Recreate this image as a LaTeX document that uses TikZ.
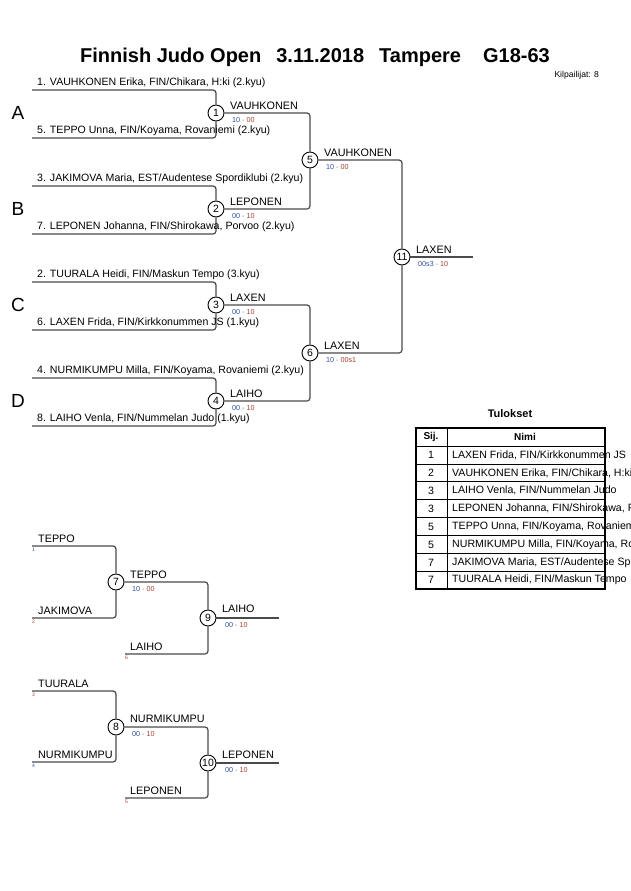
\documentclass[tikz,border=0pt]{standalone}
\usepackage{fontspec}
\setmainfont{Liberation Sans}
\definecolor{ln}{HTML}{4A4A4A}
\definecolor{sblue}{HTML}{2F4F9F}
\definecolor{sred}{HTML}{A8402E}
\newcommand{\scor}[2]{\textcolor{sblue}{#1}\ \textcolor{gray}{-}\ \textcolor{sred}{#2}}
\begin{document}
\begin{tikzpicture}[x=1pt,y=-1pt,
  br/.style={draw=ln,line width=1.2pt,rounded corners=3pt},
  circ/.style={circle,draw=black,line width=0.9pt,fill=white,minimum size=16pt,inner sep=0pt,font=\fontsize{10.5}{10}\selectfont},
  nm/.style={anchor=base west,inner sep=0pt,font=\fontsize{10.6}{11}\selectfont},
  wn/.style={anchor=base west,inner sep=0pt,font=\fontsize{10.8}{11}\selectfont},
  scr/.style={anchor=base west,inner sep=0pt,font=\fontsize{7.2}{8}\selectfont},
  seed/.style={anchor=north west,inner sep=0pt,font=\fontsize{5}{5}\selectfont},
  grp/.style={anchor=center,inner sep=0pt,font=\fontsize{19}{19}\selectfont},
  cell/.style={inner sep=0pt,font=\fontsize{10.6}{11}\selectfont}]
\clip (0,0) rectangle (630,891);
\fill[white] (0,0) rectangle (630,891);
% title
\node[inner sep=0pt,font=\bfseries\fontsize{20}{20}\selectfont] (title) at (315,57) {Finnish Judo Open\hspace{15pt}3.11.2018\hspace{15pt}Tampere\hspace{22pt}G18-63};
\node[anchor=east,inner sep=0pt,font=\fontsize{8.6}{9}\selectfont] (kilp) at (599,75) {Kilpailijat: 8};
% group letters
\node[grp] (gA) at (18,113) {A};
\node[grp] (gB) at (18,209) {B};
\node[grp] (gC) at (18,305) {C};
\node[grp] (gD) at (18,401) {D};
% entrant line ends
\coordinate (e1) at (32,90);  \coordinate (e5) at (32,138);
\coordinate (e3) at (32,186); \coordinate (e7) at (32,234);
\coordinate (e2) at (32,282); \coordinate (e6) at (32,330);
\coordinate (e4) at (32,378); \coordinate (e8) at (32,426);
% match circles
\node[circ] (m1) at (216,113) {1};
\node[circ] (m2) at (216,209) {2};
\node[circ] (m3) at (216,305) {3};
\node[circ] (m4) at (216,401) {4};
\node[circ] (m5) at (310,160) {5};
\node[circ] (m6) at (310,353) {6};
\node[circ] (m11) at (402,257) {11};
\coordinate (fin) at (473,257);
% connectors
\draw[br] (e1) -| (m1); \draw[br] (e5) -| (m1);
\draw[br] (e3) -| (m2); \draw[br] (e7) -| (m2);
\draw[br] (e2) -| (m3); \draw[br] (e6) -| (m3);
\draw[br] (e4) -| (m4); \draw[br] (e8) -| (m4);
\draw[br] (m1) -| (m5); \draw[br] (m2) -| (m5);
\draw[br] (m3) -| (m6); \draw[br] (m4) -| (m6);
\draw[br] (m5) -| (m11); \draw[br] (m6) -| (m11);
\draw[br] (m11) -- (fin);
% entrant names
\node[nm] (n1) at (37,85.5) {1. VAUHKONEN Erika, FIN/Chikara, H:ki (2.kyu)};
\node[nm] (n5) at (37,133.5) {5. TEPPO Unna, FIN/Koyama, Rovaniemi (2.kyu)};
\node[nm] (n3) at (37,181.5) {3. JAKIMOVA Maria, EST/Audentese Spordiklubi (2.kyu)};
\node[nm] (n7) at (37,229.5) {7. LEPONEN Johanna, FIN/Shirokawa, Porvoo (2.kyu)};
\node[nm] (n2) at (37,277.5) {2. TUURALA Heidi, FIN/Maskun Tempo (3.kyu)};
\node[nm] (n6) at (37,325.5) {6. LAXEN Frida, FIN/Kirkkonummen JS (1.kyu)};
\node[nm] (n4) at (37,373.5) {4. NURMIKUMPU Milla, FIN/Koyama, Rovaniemi (2.kyu)};
\node[nm] (n8) at (37,421.5) {8. LAIHO Venla, FIN/Nummelan Judo (1.kyu)};
% winners and scores
\node[wn] (w1) at (230,109) {VAUHKONEN};  \node[scr] (s1) at (232,122) {\scor{10}{00}};
\node[wn] (w2) at (230,205) {LEPONEN};    \node[scr] (s2) at (232,218) {\scor{00}{10}};
\node[wn] (w3) at (230,301) {LAXEN};      \node[scr] (s3) at (232,314) {\scor{00}{10}};
\node[wn] (w4) at (230,397) {LAIHO};      \node[scr] (s4) at (232,410) {\scor{00}{10}};
\node[wn] (w5) at (324,156) {VAUHKONEN};  \node[scr] (s5) at (326,169) {\scor{10}{00}};
\node[wn] (w6) at (324,349) {LAXEN};      \node[scr] (s6) at (326,362) {\scor{10}{00s1}};
\node[wn] (w11) at (416,253) {LAXEN};     \node[scr] (s11) at (418,266) {\scor{00s3}{10}};
% ---------- repechage ----------
\coordinate (r1) at (32,546); \coordinate (r2) at (32,618);
\coordinate (r6) at (125,654);
\coordinate (r3) at (32,691); \coordinate (r4) at (32,762);
\coordinate (r5) at (125,798);
\node[circ] (m7) at (116,582) {7};
\node[circ] (m9) at (208,618) {9};
\node[circ] (m8) at (116,727) {8};
\node[circ] (m10) at (208,763) {10};
\coordinate (o9) at (279,618); \coordinate (o10) at (279,763);
\draw[br] (r1) -| (m7); \draw[br] (r2) -| (m7);
\draw[br] (m7) -| (m9); \draw[br] (r6) -| (m9);
\draw[br] (m9) -- (o9);
\draw[br] (r3) -| (m8); \draw[br] (r4) -| (m8);
\draw[br] (m8) -| (m10); \draw[br] (r5) -| (m10);
\draw[br] (m10) -- (o10);
\node[wn] (t1) at (38,542) {TEPPO};       \node[seed,text=sblue] (q1) at (32,548) {1};
\node[wn] (t2) at (38,614) {JAKIMOVA};    \node[seed,text=sred] (q2) at (32,620) {2};
\node[wn] (t6) at (130,650) {LAIHO};      \node[seed,text=sred] (q6) at (125,656) {6};
\node[wn] (w7) at (130,578) {TEPPO};      \node[scr] (s7) at (132,591) {\scor{10}{00}};
\node[wn] (w9) at (222,612) {LAIHO};      \node[scr] (s9) at (225,627) {\scor{00}{10}};
\node[wn] (t3) at (38,687) {TUURALA};     \node[seed,text=sred] (q3) at (32,693) {3};
\node[wn] (t4) at (38,758) {NURMIKUMPU};  \node[seed,text=sblue] (q4) at (32,764) {4};
\node[wn] (t5) at (130,794) {LEPONEN};    \node[seed,text=sred] (q5) at (125,800) {5};
\node[wn] (w8) at (130,722) {NURMIKUMPU}; \node[scr] (s8) at (132,736) {\scor{00}{10}};
\node[wn] (w10) at (222,758) {LEPONEN};   \node[scr] (s10) at (225,772) {\scor{00}{10}};
% ---------- results table ----------
\node[inner sep=0pt,font=\bfseries\fontsize{11}{11}\selectfont] (tul) at (510,414) {Tulokset};
\node[cell,font=\bfseries\fontsize{10}{11}\selectfont] (hs) at (431,437) {Sij.};
\node[cell,font=\bfseries\fontsize{10}{11}\selectfont] (hn) at (525,437) {Nimi};
\foreach \i/\p/\t in {1/1/{LAXEN Frida, FIN/Kirkkonummen JS},
                      2/2/{VAUHKONEN Erika, FIN/Chikara, H:ki},
                      3/3/{LAIHO Venla, FIN/Nummelan Judo},
                      4/3/{LEPONEN Johanna, FIN/Shirokawa, Porvoo},
                      5/5/{TEPPO Unna, FIN/Koyama, Rovaniemi},
                      6/5/{NURMIKUMPU Milla, FIN/Koyama, Rovaniemi},
                      7/7/{JAKIMOVA Maria, EST/Audentese Spordiklubi},
                      8/7/{TUURALA Heidi, FIN/Maskun Tempo}}{
  \node[cell] (rp\i) at (431,{446+17.9*(\i-0.5)}) {\p};
  \node[cell,anchor=west] (rn\i) at (452,{446+17.9*(\i-0.5)}) {\t};
}
\foreach \i in {1,...,7}
  \draw[line width=0.7pt] (416,{446+17.9*\i}) -- (605,{446+17.9*\i});
\draw[line width=1pt] (416,446) -- (605,446);
\draw[line width=0.7pt] (447,428) -- (447,589);
\draw[line width=1.5pt] (416,428) rectangle (605,589);
\end{tikzpicture}
\end{document}
